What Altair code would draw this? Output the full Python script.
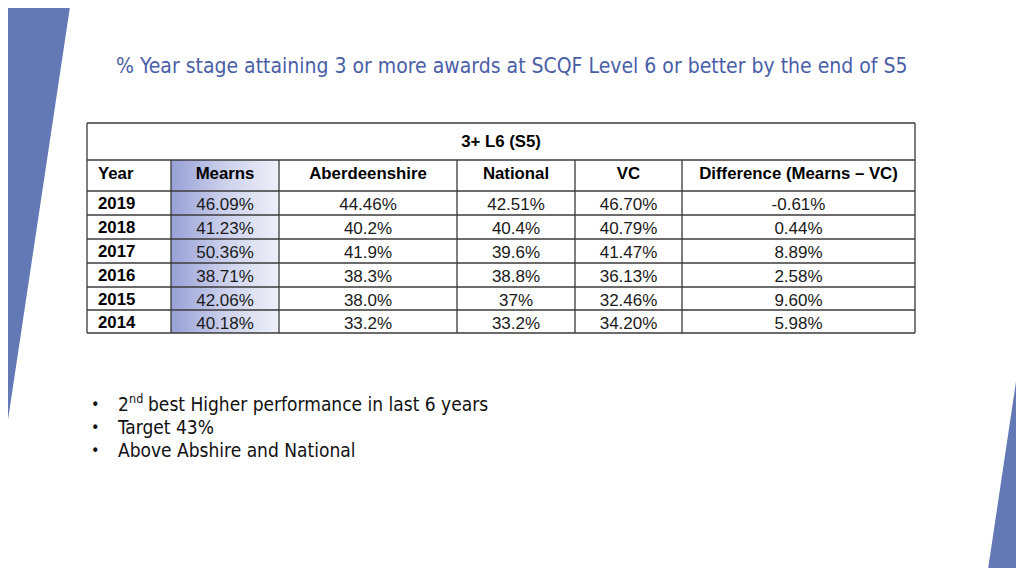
import altair as alt
import pandas as pd

# ---------------- data ----------------
title_text = "% Year stage attaining 3 or more awards at SCQF Level 6 or better by the end of S5"
group_header = "3+ L6 (S5)"
columns = ["Year", "Mearns", "Aberdeenshire", "National", "VC", "Difference (Mearns \u2013 VC)"]
years = ["2019", "2018", "2017", "2016", "2015", "2014"]
mearns = ["46.09%", "41.23%", "50.36%", "38.71%", "42.06%", "40.18%"]
aberdeenshire = ["44.46%", "40.2%", "41.9%", "38.3%", "38.0%", "33.2%"]
national = ["42.51%", "40.4%", "39.6%", "38.8%", "37%", "33.2%"]
vc = ["46.70%", "40.79%", "41.47%", "36.13%", "32.46%", "34.20%"]
difference = ["-0.61%", "0.44%", "8.89%", "2.58%", "9.60%", "5.98%"]
bullets = ["best Higher performance in last 6 years", "Target 43%", "Above Abshire and National"]

# ---------------- layout (reference pixel space) ----------------
W, H = 1008, 560
col_edges = [87, 171, 279, 457, 575, 682, 915]
table_top, head1_bottom, head2_bottom = 123, 160, 191
row_edges = [191, 215, 239, 263, 287, 310, 333]

xs = alt.Scale(domain=[8, 8 + W], range=[0, W], nice=False, zero=False)
ys = alt.Scale(domain=[8, 8 + H], range=[0, H], nice=False, zero=False)

def X(f="x", **kw):
    return alt.X(f + ":Q", scale=xs, axis=None, **kw)

def Y(f="y", **kw):
    return alt.Y(f + ":Q", scale=ys, axis=None, **kw)

BLUE = "#6379b6"
LINE = "#3a3a3a"

# decorations
left_poly = pd.DataFrame({"y": [0, 473], "x": [0, 0], "x2": [71, 0]})
right_poly = pd.DataFrame({"y": [335, 576], "x": [1023, 987], "x2": [1030, 1030]})
deco_left = alt.Chart(left_poly).mark_area(orient="horizontal", color=BLUE, clip=True).encode(
    y=Y(), x=X(), x2="x2:Q")
deco_right = alt.Chart(right_poly).mark_area(orient="horizontal", color=BLUE, clip=True).encode(
    y=Y(), x=X(), x2="x2:Q")

# Mearns gradient cell
grad = alt.Chart(pd.DataFrame({"x": [col_edges[1]], "x2": [col_edges[2]],
                               "y": [head1_bottom], "y2": [row_edges[-1]]})).mark_rect(
    fill=alt.Gradient(gradient="linear",
                      stops=[alt.GradientStop(color="#97a0d6", offset=0),
                             alt.GradientStop(color="#cdd1ec", offset=0.5),
                             alt.GradientStop(color="#eef0f9", offset=1)],
                      x1=0, x2=1, y1=0, y2=0)
).encode(x=X(), x2="x2:Q", y=Y(), y2="y2:Q")

# table lines
hlines_y = [table_top, head1_bottom, head2_bottom] + row_edges[1:]
hl = pd.DataFrame({"y": hlines_y, "x": col_edges[0], "x2": col_edges[-1]})
hrules = alt.Chart(hl).mark_rule(color=LINE, strokeWidth=1.3).encode(x=X(), x2="x2:Q", y=Y())
vl = pd.DataFrame({"x": col_edges,
                   "y": [table_top] + [head1_bottom] * 5 + [table_top],
                   "y2": [row_edges[-1]] * 7})
vrules = alt.Chart(vl).mark_rule(color=LINE, strokeWidth=1.3).encode(x=X(), y=Y(), y2="y2:Q")

FONT = "Liberation Sans"
centers = [(col_edges[i] + col_edges[i + 1]) / 2 for i in range(6)]

# header texts
h1 = alt.Chart(pd.DataFrame({"x": [(col_edges[0] + col_edges[-1]) / 2], "y": [142], "t": [group_header]})).mark_text(
    font=FONT, fontSize=16.8, fontWeight="bold", color="#000", baseline="middle").encode(x=X(), y=Y(), text="t:N")
h2df = pd.DataFrame({"x": [98] + centers[1:], "y": [174] * 6, "t": columns})
h2_left = alt.Chart(h2df.iloc[:1]).mark_text(font=FONT, fontSize=16.8, fontWeight="bold", color="#000",
                                             baseline="middle", align="left").encode(x=X(), y=Y(), text="t:N")
h2_c = alt.Chart(h2df.iloc[1:]).mark_text(font=FONT, fontSize=16.8, fontWeight="bold", color="#000",
                                          baseline="middle", align="center").encode(x=X(), y=Y(), text="t:N")

row_c = [(row_edges[i] + row_edges[i + 1]) / 2 for i in range(6)]
ydf = pd.DataFrame({"x": 98, "y": [r + 1 for r in row_c], "t": years})
year_t = alt.Chart(ydf).mark_text(font=FONT, fontSize=16.8, fontWeight="bold", color="#000",
                                  baseline="middle", align="left").encode(x=X(), y=Y(), text="t:N")
vals = []
for ci, series in enumerate([mearns, aberdeenshire, national, vc, difference], start=1):
    for ri, v in enumerate(series):
        vals.append({"x": centers[ci], "y": row_c[ri] + 2, "t": v})
val_t = alt.Chart(pd.DataFrame(vals)).mark_text(font=FONT, fontSize=17, color="#1a1a1a",
                                                baseline="middle", align="center").encode(x=X(), y=Y(), text="t:N")

# title
TFONT = "DejaVu Sans Condensed"
title = alt.Chart(pd.DataFrame({"x": [116], "y": [67], "t": [title_text]})).mark_text(
    font=TFONT, fontSize=21, color="#4a5ea8", baseline="middle", align="left").encode(x=X(), y=Y(), text="t:N")

# bullets
bdot = alt.Chart(pd.DataFrame({"x": [91] * 3, "y": [405, 428, 451], "t": ["\u2022"] * 3})).mark_text(
    font=TFONT, fontSize=16, color="#111", baseline="middle", align="left").encode(x=X(), y=Y(), text="t:N")
btxt = alt.Chart(pd.DataFrame({"x": [148, 118, 118], "y": [405, 428, 451], "t": bullets})).mark_text(
    font=TFONT, fontSize=19, color="#111", baseline="middle", align="left").encode(x=X(), y=Y(), text="t:N")
b2 = alt.Chart(pd.DataFrame({"x": [118], "y": [405], "t": ["2"]})).mark_text(
    font=TFONT, fontSize=19, color="#111", baseline="middle", align="left").encode(x=X(), y=Y(), text="t:N")
bsup = alt.Chart(pd.DataFrame({"x": [129], "y": [399], "t": ["nd"]})).mark_text(
    font=TFONT, fontSize=12.5, color="#111", baseline="middle", align="left").encode(x=X(), y=Y(), text="t:N")

chart = alt.layer(deco_left, deco_right, grad, hrules, vrules, h1, h2_left, h2_c, year_t, val_t,
                  title, bdot, btxt, b2, bsup).properties(
    width=W, height=H, padding=0, autosize=alt.AutoSizeParams(type="none")
).configure_view(stroke=None)

chart.save("out.html", embed_options={"renderer": "svg", "actions": False})
